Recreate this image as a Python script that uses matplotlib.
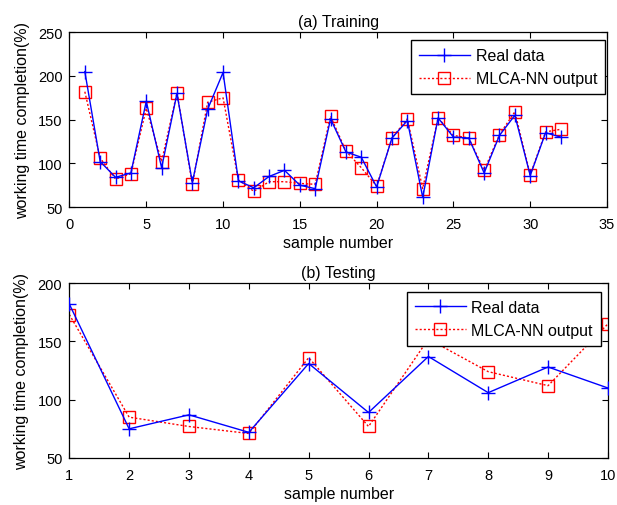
import matplotlib
matplotlib.use("Agg")
import matplotlib.pyplot as plt

plt.rcParams['font.family'] = ['Liberation Sans', 'DejaVu Sans']
plt.rcParams['font.size'] = 11.5

# (a) training set
train_idx = list(range(1, 33))
train_real = [205, 102, 84, 89, 171, 95, 180, 78, 162, 204,
              80, 72, 85, 92, 75, 71, 151, 113, 107, 73,
              129, 149, 61, 152, 130, 129, 89, 132, 155, 86,
              135, 130]
train_pred = [182, 106, 82, 88, 163, 102, 181, 76, 170, 175,
              81, 68, 79, 79, 77, 76, 154, 114, 95, 74,
              129, 151, 71, 152, 132, 129, 92, 133, 159, 87,
              136, 139]

# (b) testing set
test_idx = list(range(1, 11))
test_real = [182, 75, 87, 72, 131, 89, 137, 106, 128, 110]
test_pred = [173, 85, 77, 71, 136, 77, 152, 124, 112, 165]

LABEL_FS = 11.5
TICK_FS = 10.5

fig = plt.figure(figsize=(6.17, 5.06), dpi=100)
ax1 = fig.add_axes([0.1126, 0.5889, 0.8712, 0.3453])
ax2 = fig.add_axes([0.1123, 0.0929, 0.8730, 0.3458])


def style(ax):
    ax.tick_params(direction='in', top=True, right=True, length=4,
                   width=0.8, labelsize=TICK_FS)
    ax.tick_params(axis='x', pad=7.5)
    ax.tick_params(axis='y', pad=5)
    for s in ax.spines.values():
        s.set_linewidth(0.9)


def draw(ax, x, real, pred):
    ax.plot(x, real, color='#0000ff', lw=1.0, marker='+', ms=10,
            mew=1.0, label='Real data', zorder=3)
    ax.plot(x, pred, color='#ff0000', lw=1.0, ls=(0, (1.5, 1.5)),
            marker='s', ms=8, mfc='none', mec='#ff0000', mew=1.0,
            label='MLCA-NN output', zorder=2)


def legend(ax, anchor):
    leg = ax.legend(loc='upper right', bbox_to_anchor=anchor,
                    borderaxespad=0, fancybox=False, edgecolor='black',
                    framealpha=1, handlelength=3.2, handletextpad=0.35,
                    fontsize=LABEL_FS, borderpad=0.5, labelspacing=0.5)
    leg.get_frame().set_linewidth(1.0)
    leg.set_zorder(5)


draw(ax1, train_idx, train_real, train_pred)
ax1.set_xlim(0, 35)
ax1.set_ylim(50, 250)
ax1.set_xticks(range(0, 36, 5))
ax1.set_yticks(range(50, 251, 50))
ax1.set_title('(a) Training', fontsize=LABEL_FS, pad=4.5)
ax1.set_xlabel('sample number', fontsize=LABEL_FS, labelpad=2.5)
ax1.set_ylabel('working time completion(%)', fontsize=LABEL_FS, labelpad=6)
style(ax1)
legend(ax1, (1 - 2 / 537, 1 - 8 / 175))

draw(ax2, test_idx, test_real, test_pred)
ax2.set_xlim(1, 10)
ax2.set_ylim(50, 200)
ax2.set_xticks(range(1, 11))
ax2.set_yticks(range(50, 201, 50))
ax2.set_title('(b) Testing', fontsize=LABEL_FS, pad=4.5)
ax2.set_xlabel('sample number', fontsize=LABEL_FS, labelpad=2.5)
ax2.set_ylabel('working time completion(%)', fontsize=LABEL_FS, labelpad=6)
style(ax2)
legend(ax2, (1 - 7 / 539, 1 - 9 / 175))

fig.savefig('out.png', dpi=100)
